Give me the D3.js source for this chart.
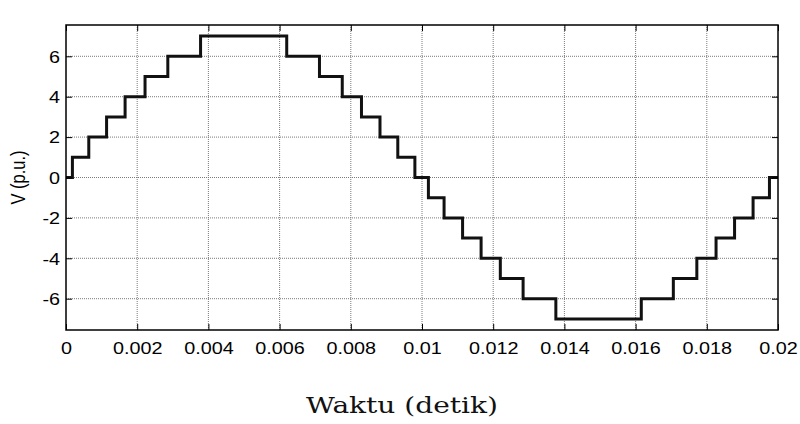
<!DOCTYPE html>
<html>
<head>
<meta charset="utf-8">
<script src="https://cdn.jsdelivr.net/npm/d3@7"></script>
<style>
  html, body { margin: 0; padding: 0; background: #fff; }
  svg { display: block; }
</style>
</head>
<body>
<svg id="chart" width="800" height="424"></svg>
<script>
// Staircase output voltage of a 15-level inverter over one 50 Hz period.
// Switching instants (s) and the per-unit level held after each instant.
const switchTimes = [0, 0.00018, 0.00064, 0.00114, 0.00166, 0.00222, 0.00286, 0.00378,
  0.00620, 0.00712, 0.00776, 0.00830, 0.00882, 0.00932, 0.00980,
  0.01018, 0.01062, 0.01114, 0.01166, 0.01220, 0.01284, 0.01376,
  0.01616, 0.01706, 0.01772, 0.01826, 0.01878, 0.01930, 0.01976, 0.02];
const voltageLevels = [0, 1, 2, 3, 4, 5, 6, 7,
  6, 5, 4, 3, 2, 1, 0,
  -1, -2, -3, -4, -5, -6, -7,
  -6, -5, -4, -3, -2, -1, 0, 0];

const xTicks = [0, 0.002, 0.004, 0.006, 0.008, 0.01, 0.012, 0.014, 0.016, 0.018, 0.02];
const xTickLabels = ["0", "0.002", "0.004", "0.006", "0.008", "0.01", "0.012", "0.014", "0.016", "0.018", "0.02"];
const yTicks = [-6, -4, -2, 0, 2, 4, 6];
const yTickLabels = ["-6", "-4", "-2", "0", "2", "4", "6"];
const xLabel = "Waktu (detik)";
const yLabel = "V (p.u.)";

const svg = d3.select("#chart");
const plot = { left: 66, right: 778, top: 25, bottom: 330 };

const x = d3.scaleLinear().domain([0, 0.02]).range([plot.left, plot.right]);
const y = d3.scaleLinear().domain([-7.55, 7.55]).range([plot.bottom, plot.top]);

const series = switchTimes.map((t, i) => ({ t, v: voltageLevels[i] }));

const tickFont = "'Liberation Sans', Arial, sans-serif";
const stretch = 1.2;
const tickLen = 6;

// grid
const grid = svg.append("g");
grid.selectAll("line.gx").data(xTicks.slice(1, -1)).join("line")
  .attr("x1", d => x(d)).attr("x2", d => x(d))
  .attr("y1", plot.top).attr("y2", plot.bottom)
  .attr("stroke", "#7a7a7a").attr("stroke-width", 1)
  .attr("stroke-dasharray", "1,1");
grid.selectAll("line.gy").data(yTicks).join("line")
  .attr("x1", plot.left).attr("x2", plot.right)
  .attr("y1", d => y(d)).attr("y2", d => y(d))
  .attr("stroke", "#7a7a7a").attr("stroke-width", 1)
  .attr("stroke-dasharray", "1,1");

// waveform
const line = d3.line().x(d => x(d.t)).y(d => y(d.v)).curve(d3.curveStepAfter);
svg.append("path").datum(series)
  .attr("d", line)
  .attr("fill", "none")
  .attr("stroke", "#111")
  .attr("stroke-width", 3)
  .attr("stroke-linejoin", "miter");

// axes with inward ticks on all four sides
function styleAxis(g) {
  g.select(".domain").remove();
  g.selectAll(".tick line").attr("stroke", "#000").attr("stroke-width", 1);
}
const fmtX = (d, i) => xTickLabels[i];
const fmtY = (d, i) => yTickLabels[i];

const axB = svg.append("g").attr("transform", `translate(0,${plot.bottom})`)
  .call(d3.axisBottom(x).tickValues(xTicks).tickFormat(fmtX).tickSizeInner(-tickLen).tickSizeOuter(0).tickPadding(0));
styleAxis(axB);
axB.selectAll(".tick text")
  .attr("y", 24).attr("dy", 0)
  .attr("transform", `scale(${stretch},1)`)
  .attr("font-family", tickFont).attr("font-size", 16.5).attr("fill", "#000");

const axT = svg.append("g").attr("transform", `translate(0,${plot.top})`)
  .call(d3.axisTop(x).tickValues(xTicks).tickFormat("").tickSizeInner(-tickLen).tickSizeOuter(0));
styleAxis(axT);

const axL = svg.append("g").attr("transform", `translate(${plot.left},0)`)
  .call(d3.axisLeft(y).tickValues(yTicks).tickFormat(fmtY).tickSizeInner(-tickLen).tickSizeOuter(0).tickPadding(0));
styleAxis(axL);
axL.selectAll(".tick text")
  .attr("x", -6 / stretch).attr("dy", "0.35em")
  .attr("transform", `scale(${stretch},1)`)
  .attr("font-family", tickFont).attr("font-size", 16.5).attr("fill", "#000");

const axR = svg.append("g").attr("transform", `translate(${plot.right},0)`)
  .call(d3.axisRight(y).tickValues(yTicks).tickFormat("").tickSizeInner(-tickLen).tickSizeOuter(0));
styleAxis(axR);

// frame
svg.append("rect")
  .attr("x", plot.left).attr("y", plot.top)
  .attr("width", plot.right - plot.left).attr("height", plot.bottom - plot.top)
  .attr("fill", "none").attr("stroke", "#000").attr("stroke-width", 1.5);

// axis titles
svg.append("text")
  .attr("transform", `translate(18,${(plot.top + plot.bottom) / 2}) rotate(-90) scale(1,${stretch})`)
  .attr("text-anchor", "middle")
  .attr("dy", "0.35em")
  .attr("font-family", tickFont).attr("font-size", 16.5).attr("fill", "#000")
  .text(yLabel);

svg.append("text")
  .attr("x", 402).attr("y", 413)
  .attr("text-anchor", "middle")
  .attr("font-family", "'DejaVu Serif', 'Liberation Serif', serif")
  .attr("font-size", 22).attr("fill", "#111")
  .attr("textLength", 192).attr("lengthAdjust", "spacingAndGlyphs")
  .text(xLabel);
</script>
</body>
</html>
